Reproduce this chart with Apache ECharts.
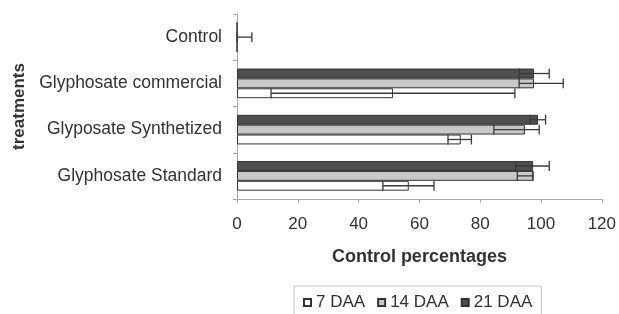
<!DOCTYPE html>
<html>
<head>
<meta charset="utf-8">
<script src="https://cdn.jsdelivr.net/npm/echarts@6/dist/echarts.min.js"></script>
<style>
  html, body { margin: 0; padding: 0; background: #fff; }
  #chart { width: 619px; height: 314px; }
</style>
</head>
<body>
<div id="chart"></div>
<script>
// categories, bottom to top
var treatments = ['Glyphosate Standard', 'Glyposate Synthetized', 'Glyphosate commercial', 'Control'];

var daa7 = [56.5, 73.6, 51.3, 0];
var daa14 = [97.4, 94.7, 97.7, 0];
var daa21 = [97.4, 99.0, 97.7, 0];

// error bar ends (low / high)
var daa7Low = [48.0, 69.4, 11.2, 0];
var daa7High = [64.8, 77.1, 91.4, 0];
var daa14Low = [92.2, 84.5, 92.8, 0];
var daa14High = [97.4, 99.4, 107.3, 4.9];
var daa21Low = [91.7, 96.3, 92.8, 0];
var daa21High = [102.7, 101.5, 102.7, 0];

var gapPct = 0.36;
var txt = '#333';

var myChart = echarts.init(document.getElementById('chart'));

// series drawn top -> bottom inside each category: 21, 14, 7
function errData(low, high, slot) {
  var out = [];
  for (var i = 0; i < low.length; i++) {
    if (low[i] === high[i]) continue;
    out.push([low[i], high[i], i, slot]);
  }
  return out;
}

function renderErr(params, api) {
  var lo = api.value(0), hi = api.value(1), cat = api.value(2), slot = api.value(3);
  var a = api.coord([lo, cat]);
  var b = api.coord([hi, cat]);
  var band = api.size([0, 1])[1];
  var barH = band * (1 - gapPct) / 3;
  var y = a[1] + (slot - 1) * barH;
  var h = barH / 2;
  var st = { stroke: '#3a3a3a', lineWidth: 1.3 };
  return {
    type: 'group',
    children: [
      { type: 'line', shape: { x1: a[0], y1: y, x2: b[0], y2: y }, style: st },
      { type: 'line', shape: { x1: a[0], y1: y - h, x2: a[0], y2: y + h }, style: st },
      { type: 'line', shape: { x1: b[0], y1: y - h, x2: b[0], y2: y + h }, style: st }
    ]
  };
}

var errAll = []
  .concat(errData(daa21Low, daa21High, 0))
  .concat(errData(daa14Low, daa14High, 1))
  .concat(errData(daa7Low, daa7High, 2));

option = {
  animation: false,
  textStyle: { fontFamily: 'Liberation Sans, Arial, sans-serif' },
  grid: { left: 237, right: 17, top: 14, bottom: 115 },
  legend: {
    data: ['7 DAA', '14 DAA', '21 DAA'],
    left: 294,
    top: 286,
    padding: [8, 9, 8, 9],
    borderColor: '#c8c8c8',
    borderWidth: 1,
    icon: 'rect',
    itemWidth: 7,
    itemHeight: 7,
    itemGap: 12,
    textStyle: { fontSize: 17, color: txt }
  },
  xAxis: {
    type: 'value',
    min: 0,
    max: 120,
    interval: 20,
    name: 'Control percentages',
    nameLocation: 'middle',
    nameGap: 49,
    nameTextStyle: { fontSize: 18, fontWeight: 'bold', color: txt },
    axisLine: { show: true, lineStyle: { color: '#aaa' } },
    axisTick: { show: true, length: 4, lineStyle: { color: '#aaa' } },
    axisLabel: { fontSize: 17, color: txt, margin: 17 },
    splitLine: { show: false }
  },
  yAxis: {
    type: 'category',
    data: treatments,
    name: 'treatments',
    nameLocation: 'middle',
    nameRotate: 90,
    nameGap: 208,
    nameTextStyle: { fontSize: 17, fontWeight: 'bold', color: txt },
    axisLine: { show: true, lineStyle: { color: '#aaa' } },
    axisTick: { show: true, length: 4, lineStyle: { color: '#aaa' } },
    axisLabel: { fontSize: 17.5, color: txt, margin: 15, padding: [3, 0, 0, 0] }
  },
  series: [
    {
      name: '21 DAA',
      type: 'bar',
      data: daa21,
      barGap: 0,
      barCategoryGap: '36%',
      itemStyle: { color: '#4f4f4f', borderColor: '#333', borderWidth: 1 }
    },
    {
      name: '14 DAA',
      type: 'bar',
      data: daa14,
      itemStyle: { color: '#c8c8c8', borderColor: '#333', borderWidth: 1 }
    },
    {
      name: '7 DAA',
      type: 'bar',
      data: daa7,
      itemStyle: { color: '#ffffff', borderColor: '#333', borderWidth: 1 }
    },
    {
      type: 'custom',
      renderItem: renderErr,
      data: errAll,
      encode: { x: [0, 1], y: 2 },
      z: 3,
      silent: true
    }
  ]
};

myChart.setOption(option);
</script>
</body>
</html>
